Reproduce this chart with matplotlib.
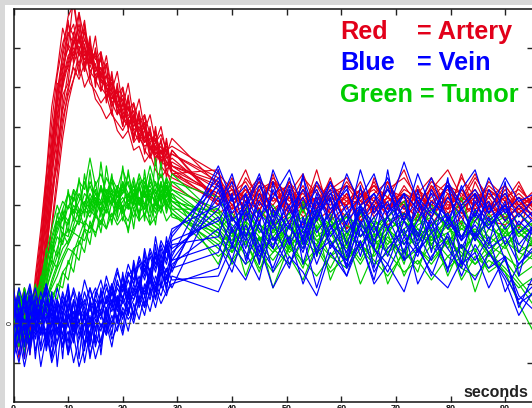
import matplotlib
matplotlib.use("Agg")
import matplotlib.pyplot as plt
from matplotlib.patches import Rectangle

# ---------------- data (signal in tick units, time in seconds) ----------------
time_early = [0, 1, 2, 3, 4, 5, 6, 7, 8, 9, 10, 11, 12, 13, 14, 15, 16, 17, 18, 19,
              20, 21, 22, 23, 24, 25, 26, 27, 28, 29]
time_late = [37.5, 40, 42.5, 45, 47.5, 50.5, 53, 55.5, 58, 61, 63.5, 66, 68.5, 71.5,
             74, 76.5, 79.5, 82, 84.5, 87, 90, 92.5, 95.5]

red_early = [
    [0.3, -0.4, 0.6, 0.1, 0.9, 2.0, 3.4, 4.8, 5.9, 6.8, 7.4, 7.1, 7.6, 7.0, 6.6, 6.8, 6.2, 6.0, 5.7, 5.9, 5.3, 5.5, 5.0, 5.2, 4.7, 4.9, 4.4, 4.6, 4.2, 4.3],
    [0.0, 0.5, -0.6, 0.2, 0.4, 0.9, 1.8, 3.0, 4.3, 5.5, 6.4, 6.9, 7.3, 6.8, 7.1, 6.5, 6.3, 6.6, 5.9, 5.6, 5.8, 5.2, 5.4, 4.9, 5.1, 4.6, 4.8, 4.3, 4.5, 4.0],
    [0.6, -0.2, 0.3, -0.8, 0.5, 1.4, 2.8, 4.4, 5.6, 6.9, 7.8, 8.1, 7.2, 7.5, 6.9, 6.4, 6.7, 6.0, 6.2, 5.6, 5.4, 5.7, 5.1, 4.8, 5.0, 4.5, 4.2, 4.4, 3.9, 4.1],
    [-0.3, 0.2, 0.8, 0.0, 0.3, 1.0, 2.3, 3.6, 5.0, 6.0, 6.6, 7.2, 6.9, 7.4, 6.7, 6.9, 6.1, 6.3, 5.8, 5.5, 5.7, 5.0, 5.3, 4.8, 4.6, 4.9, 4.3, 4.5, 4.1, 3.9],
    [0.2, 0.7, -0.5, 0.4, 0.1, 1.2, 2.1, 3.3, 4.5, 5.4, 6.0, 6.5, 6.2, 6.6, 6.1, 5.9, 5.6, 5.8, 5.3, 5.1, 4.9, 5.2, 4.6, 4.8, 4.4, 4.2, 4.5, 4.0, 3.8, 3.7],
    [-0.7, 0.1, 0.4, -0.3, 0.7, 1.7, 3.1, 4.6, 5.7, 6.5, 7.0, 6.7, 7.3, 6.9, 6.4, 6.6, 6.0, 5.8, 6.1, 5.4, 5.2, 5.5, 4.9, 5.1, 4.7, 4.4, 4.6, 4.2, 4.4, 4.0],
    [0.4, -0.1, 0.2, 0.6, -0.2, 0.5, 1.3, 2.5, 3.8, 5.0, 5.9, 6.6, 7.0, 7.2, 6.8, 6.3, 6.5, 6.0, 5.7, 5.9, 5.4, 5.1, 5.3, 4.9, 4.7, 4.8, 4.4, 4.6, 4.2, 4.3],
    [0.1, -0.6, 0.5, 0.3, 0.6, 1.6, 2.6, 4.0, 5.3, 6.2, 6.8, 7.0, 6.6, 7.1, 6.4, 6.2, 5.9, 6.3, 5.6, 5.8, 5.2, 5.0, 5.2, 4.7, 4.9, 4.5, 4.3, 4.1, 4.3, 3.8],
    [0.3, 0.8, -0.1, 0.2, 1.0, 2.2, 3.7, 5.1, 6.3, 7.1, 7.6, 7.3, 7.9, 7.2, 7.0, 6.7, 6.9, 6.3, 6.1, 5.8, 6.0, 5.4, 5.6, 5.1, 5.3, 4.8, 4.6, 4.8, 4.4, 4.5],
    [-0.4, 0.3, -0.9, 0.1, 0.2, 0.8, 1.9, 3.1, 4.2, 5.2, 5.8, 6.2, 6.6, 6.0, 6.3, 5.7, 5.5, 5.2, 5.4, 4.9, 4.7, 4.9, 4.4, 4.5, 4.1, 4.3, 3.9, 3.7, 3.9, 3.5],
    [0.5, 0.0, 0.3, -0.5, 0.4, 1.5, 2.9, 4.2, 5.5, 6.4, 7.1, 6.8, 7.2, 6.7, 6.9, 6.2, 6.4, 5.9, 5.6, 5.3, 5.6, 5.1, 4.8, 5.0, 4.6, 4.8, 4.3, 4.4, 4.0, 4.2],
    [0.0, 0.4, 0.1, 0.7, 0.2, 1.1, 2.5, 3.9, 5.2, 6.1, 6.7, 7.3, 7.0, 6.6, 7.0, 6.5, 6.2, 6.0, 5.8, 5.5, 5.3, 5.0, 5.2, 4.7, 4.5, 4.6, 4.2, 4.4, 4.1, 3.8],
    [-0.5, 0.6, -0.2, 0.9, 0.2, 1.6, 3.6, 4.2, 6.1, 6.0, 7.7, 6.6, 7.9, 6.5, 7.3, 6.0, 6.9, 5.6, 6.4, 5.3, 6.0, 4.9, 5.6, 4.6, 5.3, 4.2, 5.0, 3.9, 4.7, 3.8],
    [0.9, 0.0, 0.5, -0.2, 0.8, 0.7, 1.6, 3.4, 4.0, 5.8, 6.1, 7.4, 6.3, 7.6, 6.2, 7.0, 5.9, 6.6, 5.3, 6.1, 5.0, 5.7, 4.6, 5.4, 4.3, 5.0, 4.0, 4.7, 3.7, 4.4],
    [0.2, -0.9, 0.4, -0.3, 1.2, 2.4, 3.8, 5.5, 6.4, 7.5, 7.0, 8.3, 7.1, 7.7, 6.6, 7.3, 6.2, 6.8, 5.9, 6.4, 5.5, 6.1, 5.2, 5.7, 4.9, 5.3, 4.6, 5.0, 4.3, 4.7],
    [-0.2, 0.3, 0.9, 0.2, 0.0, 1.3, 2.0, 3.9, 4.6, 6.3, 6.5, 7.1, 7.5, 6.4, 7.2, 6.1, 6.8, 5.7, 6.3, 5.6, 5.0, 5.8, 4.7, 5.3, 4.9, 4.2, 4.9, 4.1, 4.6, 3.9],
    [0.7, 0.1, -0.4, 0.5, 0.4, 0.6, 1.5, 2.4, 3.5, 4.7, 5.6, 6.2, 6.9, 6.4, 7.0, 6.2, 6.5, 6.0, 5.5, 6.0, 5.2, 5.5, 4.9, 4.6, 5.1, 4.4, 4.7, 4.1, 4.0, 4.4],
    [-0.1, 0.5, 0.2, -0.6, 0.6, 1.9, 3.2, 4.3, 5.9, 6.6, 7.3, 7.6, 6.8, 7.0, 6.5, 6.9, 6.3, 6.1, 5.9, 5.5, 5.7, 5.3, 5.1, 5.2, 4.6, 4.7, 4.5, 4.3, 4.4, 4.0],
]
red_late = [
    [3.6, 3.1, 3.4, 2.9, 3.3, 3.0, 3.5, 2.8, 3.2, 3.0, 3.4, 2.7, 3.1, 3.3, 2.9, 3.2, 3.6, 2.8, 3.0, 3.3, 2.9, 3.1, 2.7],
    [3.2, 3.5, 2.8, 3.1, 3.6, 2.9, 3.2, 3.4, 2.6, 3.0, 3.3, 3.1, 2.8, 3.5, 3.0, 2.7, 3.2, 3.4, 2.9, 3.1, 2.6, 3.0, 3.2],
    [3.4, 2.9, 3.7, 3.2, 2.8, 3.3, 3.0, 3.6, 3.1, 2.7, 3.2, 3.5, 3.0, 2.8, 3.3, 3.0, 2.9, 3.7, 3.2, 2.8, 3.4, 2.9, 3.1],
    [3.0, 3.3, 3.1, 3.5, 2.9, 3.2, 2.7, 3.0, 3.4, 3.1, 2.8, 3.3, 3.6, 2.9, 3.1, 3.4, 2.8, 3.0, 3.3, 2.7, 3.0, 3.2, 2.8],
    [3.1, 2.8, 3.0, 2.6, 3.2, 2.9, 2.5, 3.1, 2.8, 3.3, 2.6, 2.9, 3.2, 2.7, 3.0, 2.5, 3.1, 2.8, 2.6, 3.0, 2.7, 2.9, 2.6],
    [3.5, 3.0, 3.3, 3.7, 3.1, 3.4, 2.9, 3.2, 3.0, 3.6, 3.1, 2.9, 3.4, 3.2, 2.8, 3.5, 3.0, 3.2, 3.8, 3.0, 3.3, 2.8, 3.1],
    [3.7, 3.2, 3.0, 3.4, 3.6, 3.1, 3.3, 2.9, 3.5, 3.2, 3.0, 3.6, 2.9, 3.3, 3.1, 3.4, 3.9, 3.2, 3.0, 3.5, 3.1, 2.9, 3.3],
    [3.3, 3.6, 3.1, 2.9, 3.3, 3.5, 3.0, 3.2, 2.8, 3.1, 3.4, 2.9, 3.2, 3.0, 3.4, 2.9, 3.2, 3.0, 3.3, 2.9, 3.5, 3.0, 2.7],
    [3.8, 3.4, 3.2, 3.6, 3.3, 3.0, 3.7, 3.3, 3.1, 3.5, 3.3, 3.0, 3.4, 3.7, 3.2, 3.0, 3.5, 3.3, 3.0, 3.6, 3.2, 3.4, 3.0],
    [2.8, 3.0, 2.6, 2.9, 2.5, 2.8, 3.0, 2.6, 2.9, 2.4, 2.7, 3.0, 2.5, 2.8, 2.6, 2.9, 2.4, 2.7, 3.0, 2.6, 2.5, 2.8, 2.4],
    [3.2, 3.4, 2.9, 3.3, 3.0, 3.6, 3.1, 2.9, 3.3, 3.5, 3.0, 3.2, 2.7, 3.1, 3.4, 3.1, 2.9, 3.4, 3.1, 3.3, 2.8, 3.2, 3.0],
    [3.1, 3.3, 3.6, 3.0, 3.2, 2.8, 3.4, 3.1, 3.6, 2.9, 3.2, 3.4, 3.0, 3.2, 2.8, 3.3, 3.1, 2.9, 3.2, 3.4, 3.0, 2.8, 3.1],
    [3.9, 2.6, 3.5, 2.8, 3.8, 2.5, 3.4, 2.9, 3.7, 2.4, 3.3, 2.8, 3.6, 2.6, 3.5, 2.7, 3.3, 2.5, 3.6, 2.9, 3.2, 2.4, 3.4],
    [3.0, 3.7, 2.7, 3.4, 2.5, 3.6, 2.8, 3.9, 2.7, 3.3, 2.5, 3.7, 2.9, 3.1, 2.6, 3.5, 2.7, 3.8, 2.8, 3.2, 2.6, 3.5, 2.9],
    [3.5, 3.2, 3.9, 3.0, 3.6, 3.3, 3.8, 2.9, 3.4, 3.7, 3.1, 3.5, 3.2, 3.9, 3.0, 3.6, 3.3, 3.1, 3.7, 3.2, 3.5, 3.0, 3.4],
    [3.3, 2.9, 3.1, 3.6, 2.7, 3.2, 3.0, 2.7, 3.3, 3.0, 3.6, 2.8, 3.2, 2.9, 3.3, 3.7, 2.9, 3.1, 2.7, 3.4, 3.1, 3.6, 2.8],
    [3.1, 3.4, 2.9, 3.2, 3.5, 2.8, 3.1, 3.5, 2.9, 3.2, 2.7, 3.1, 3.4, 3.0, 2.7, 3.1, 3.4, 2.9, 3.2, 2.8, 3.0, 3.3, 2.9],
    [3.6, 3.0, 3.4, 3.1, 3.7, 3.2, 2.9, 3.5, 3.2, 3.0, 3.4, 3.1, 2.9, 3.4, 3.2, 3.0, 3.5, 3.1, 3.4, 2.9, 3.2, 3.0, 3.2],
]

green_early = [
    [0.4, -0.3, 0.8, 0.2, 0.6, 0.9, 1.5, 2.1, 2.6, 2.4, 3.0, 2.8, 3.3, 3.0, 3.5, 3.1, 3.4, 3.0, 3.6, 3.2, 3.5, 3.1, 3.3, 3.7, 3.2, 3.4, 3.0, 3.5, 3.3, 3.6],
    [0.0, 0.6, -0.5, 0.3, 0.1, 0.5, 0.8, 1.4, 1.9, 2.3, 2.2, 2.7, 2.5, 3.0, 2.8, 3.2, 2.9, 3.3, 3.0, 3.4, 2.9, 3.2, 3.5, 3.0, 3.3, 3.1, 3.6, 3.2, 3.4, 3.1],
    [0.5, 0.1, 0.3, 0.9, -0.2, 0.4, 1.1, 1.8, 2.5, 2.9, 3.3, 3.1, 3.6, 3.4, 4.2, 3.5, 3.8, 3.3, 3.7, 3.4, 3.9, 3.5, 3.2, 3.8, 3.4, 4.0, 3.5, 3.3, 3.7, 3.4],
    [-0.4, 0.3, 0.0, -0.7, 0.5, 0.2, 0.4, 0.7, 0.9, 1.3, 1.5, 1.9, 2.0, 2.4, 2.3, 2.7, 2.6, 2.9, 2.7, 3.1, 2.8, 3.0, 2.7, 3.2, 2.9, 3.1, 2.8, 3.3, 3.0, 2.9],
    [0.2, 0.7, 0.3, 0.0, 0.6, 0.8, 1.3, 1.7, 2.2, 2.0, 2.6, 2.9, 2.7, 3.1, 2.9, 3.3, 3.0, 3.4, 3.2, 2.9, 3.5, 3.1, 3.4, 3.0, 3.6, 3.2, 3.4, 3.1, 3.5, 3.2],
    [-0.6, 0.1, -0.3, 0.4, -0.1, 0.2, 0.6, 0.9, 1.2, 1.6, 1.9, 1.8, 2.2, 2.1, 2.5, 2.3, 2.6, 2.4, 2.8, 2.5, 2.7, 2.4, 2.9, 2.6, 2.8, 2.5, 2.7, 3.0, 2.6, 2.8],
    [0.3, -0.1, 0.5, 0.2, 0.7, 1.0, 1.6, 2.0, 2.4, 2.8, 2.6, 3.0, 2.8, 3.3, 3.1, 2.9, 3.4, 3.2, 3.0, 3.5, 3.3, 3.6, 3.1, 3.4, 3.2, 3.7, 3.3, 3.5, 3.2, 3.8],
    [0.1, 0.4, -0.2, 0.6, 0.3, 0.3, 0.6, 1.1, 1.5, 1.9, 2.1, 2.4, 2.6, 2.5, 2.9, 2.7, 3.1, 2.8, 3.2, 2.9, 3.1, 3.3, 2.9, 3.2, 3.0, 3.3, 3.1, 2.9, 3.3, 3.0],
    [0.6, 0.2, 0.9, 0.4, 0.1, 0.7, 1.2, 1.9, 2.3, 2.7, 2.5, 3.2, 2.9, 2.8, 3.3, 3.0, 3.5, 3.1, 3.3, 3.0, 3.4, 3.2, 3.7, 3.1, 3.3, 3.5, 3.2, 3.6, 3.1, 3.4],
    [-0.8, -0.2, 0.2, -0.5, 0.3, 0.0, 0.5, 1.0, 1.4, 1.7, 2.0, 2.3, 2.2, 2.6, 2.4, 2.8, 2.5, 2.9, 2.6, 3.0, 2.8, 2.6, 3.1, 2.8, 3.0, 2.7, 3.2, 2.9, 3.1, 2.8],
    [0.3, 0.8, 0.1, 0.5, 0.9, 0.7, 1.4, 2.2, 2.7, 3.1, 2.9, 3.4, 3.2, 3.0, 3.6, 3.3, 3.1, 3.7, 3.4, 3.2, 3.6, 3.3, 3.0, 3.5, 3.7, 3.2, 3.4, 3.8, 3.3, 3.1],
    [0.0, 0.3, 0.6, -0.3, 0.2, 0.4, 0.9, 1.3, 1.7, 2.1, 2.4, 2.3, 2.7, 2.9, 2.7, 3.1, 2.8, 3.0, 3.3, 3.0, 3.2, 2.9, 3.3, 3.1, 2.9, 3.4, 3.0, 3.2, 3.5, 3.1],
    [0.7, -0.4, 0.9, 0.0, 1.0, 0.5, 1.9, 1.5, 2.8, 2.2, 3.4, 2.6, 3.7, 2.7, 3.9, 2.8, 4.1, 3.0, 3.8, 2.7, 4.0, 2.9, 3.6, 2.6, 3.9, 2.8, 4.2, 3.0, 3.7, 2.9],
    [-0.3, 0.5, -0.8, 0.4, -0.2, 0.3, 0.2, 0.8, 0.6, 1.3, 1.1, 1.8, 1.6, 2.4, 2.0, 2.9, 2.3, 3.2, 2.5, 3.4, 2.6, 3.3, 2.4, 3.5, 2.7, 3.2, 2.5, 3.6, 2.8, 3.3],
    [0.2, 0.9, 0.0, 0.7, 0.3, 1.2, 0.9, 2.0, 1.7, 2.9, 2.3, 3.4, 2.6, 3.8, 2.9, 3.6, 2.7, 4.0, 3.1, 3.5, 2.8, 3.9, 3.0, 3.6, 2.6, 3.8, 3.1, 4.1, 2.9, 3.6],
    [-0.1, -0.6, 0.4, -0.4, 0.5, 0.1, 0.7, 0.5, 1.0, 0.9, 1.6, 1.3, 2.1, 1.8, 2.6, 2.2, 2.9, 2.4, 3.1, 2.6, 3.0, 2.3, 3.2, 2.7, 3.4, 2.5, 3.1, 2.8, 3.5, 2.7],
    [0.5, 0.0, 0.6, 0.9, 0.2, 0.6, 1.0, 1.6, 1.4, 2.3, 2.0, 2.5, 2.9, 2.4, 3.2, 2.7, 3.5, 2.9, 3.4, 2.8, 3.6, 3.0, 3.3, 2.8, 3.5, 3.1, 2.9, 3.4, 3.0, 3.3],
    [0.1, 0.5, -0.1, 0.3, 0.7, 1.1, 1.8, 2.4, 3.0, 2.6, 3.3, 2.8, 3.1, 3.6, 3.0, 3.4, 2.8, 3.2, 3.7, 3.1, 3.3, 3.8, 3.2, 3.5, 3.0, 3.6, 3.3, 3.1, 3.6, 3.2],
]
green_late = [
    [2.6, 2.2, 2.8, 2.4, 2.0, 2.5, 2.7, 2.1, 2.4, 2.8, 2.2, 2.5, 2.0, 2.6, 2.3, 2.1, 2.7, 2.4, 2.2, 2.6, 2.0, 2.3, 1.9],
    [2.3, 2.0, 2.5, 1.8, 2.2, 1.9, 2.4, 2.1, 1.7, 2.3, 2.0, 2.5, 1.8, 2.1, 2.4, 1.9, 2.2, 1.7, 2.3, 2.0, 2.4, 1.8, 2.1],
    [2.9, 2.5, 2.2, 2.7, 3.0, 2.4, 2.1, 2.8, 2.5, 2.2, 2.9, 2.4, 2.7, 2.3, 2.6, 3.0, 2.4, 2.2, 2.7, 2.5, 2.8, 2.3, 2.6],
    [1.9, 1.6, 2.1, 1.4, 1.8, 2.2, 1.5, 1.9, 1.3, 1.7, 2.0, 1.6, 1.2, 1.8, 1.5, 2.0, 1.4, 1.7, 1.9, 1.3, 1.6, 1.1, 0.6],
    [2.4, 2.7, 2.1, 2.5, 2.3, 2.8, 2.0, 2.4, 2.6, 2.1, 2.5, 2.2, 2.7, 2.3, 2.0, 2.5, 2.8, 2.2, 2.4, 2.1, 2.6, 2.3, 2.0],
    [1.7, 2.0, 1.5, 1.8, 1.3, 1.9, 1.6, 1.2, 1.7, 1.4, 1.9, 1.5, 1.8, 1.3, 1.6, 1.1, 1.7, 1.4, 1.2, 1.6, 1.3, 0.9, 1.2],
    [2.7, 2.3, 2.6, 2.9, 2.4, 2.2, 2.6, 2.9, 2.3, 2.7, 2.5, 2.1, 2.6, 2.8, 2.4, 2.2, 2.6, 2.9, 2.3, 2.5, 2.7, 2.2, 2.5],
    [2.1, 1.8, 2.3, 2.0, 1.6, 2.2, 1.9, 2.4, 1.7, 2.0, 1.5, 2.1, 1.8, 2.3, 1.9, 1.6, 2.1, 1.8, 1.5, 2.0, 1.7, 1.4, 1.8],
    [2.5, 2.8, 2.3, 2.1, 2.6, 2.4, 2.9, 2.2, 2.5, 2.7, 2.2, 2.6, 2.4, 2.0, 2.5, 2.7, 2.1, 2.4, 2.6, 2.2, 1.9, 2.4, 2.1],
    [2.0, 2.3, 1.7, 2.2, 1.9, 1.5, 2.1, 1.8, 2.3, 1.6, 2.0, 1.7, 2.2, 1.6, 1.9, 2.2, 1.7, 2.0, 1.5, 1.8, 1.3, 0.5, -0.3],
    [2.8, 2.4, 2.0, 2.5, 2.2, 2.7, 2.3, 2.0, 2.6, 2.3, 2.8, 2.1, 2.4, 2.6, 2.2, 2.5, 2.0, 2.6, 2.3, 2.8, 2.2, 2.5, 2.2],
    [2.2, 1.9, 2.4, 2.1, 2.5, 1.8, 2.2, 2.6, 2.0, 2.3, 1.9, 2.4, 2.1, 1.8, 2.3, 2.0, 2.5, 1.9, 2.2, 1.7, 2.1, 1.8, 1.6],
    [2.9, 1.8, 2.6, 1.5, 2.8, 1.9, 3.0, 1.7, 2.7, 1.6, 2.9, 1.8, 2.5, 1.5, 2.8, 2.0, 2.6, 1.4, 2.9, 1.7, 2.5, 1.6, 2.2],
    [1.5, 2.4, 1.2, 2.2, 0.9, 2.0, 1.4, 2.5, 1.1, 2.1, 1.6, 2.3, 1.0, 1.9, 1.3, 2.4, 1.2, 2.0, 0.8, 1.8, 1.4, 1.0, 0.4],
    [3.2, 2.6, 3.0, 2.3, 2.9, 2.1, 3.1, 2.4, 2.8, 2.0, 3.0, 2.5, 2.7, 3.1, 2.2, 2.9, 2.4, 3.2, 2.1, 2.7, 2.3, 2.8, 2.4],
    [2.3, 1.5, 2.1, 1.3, 2.4, 1.7, 1.1, 2.0, 1.4, 2.2, 1.0, 1.8, 2.3, 1.2, 1.9, 1.5, 2.1, 1.1, 1.7, 1.4, 2.0, 1.2, 1.5],
    [2.5, 2.1, 2.9, 2.3, 2.6, 1.9, 2.4, 2.8, 2.0, 2.5, 2.2, 2.7, 1.9, 2.4, 2.7, 2.1, 2.3, 2.6, 1.8, 2.4, 2.2, 2.5, 2.0],
    [2.4, 2.0, 2.6, 2.2, 1.8, 2.5, 2.1, 2.7, 2.3, 1.9, 2.6, 2.0, 2.3, 2.8, 2.1, 2.4, 1.9, 2.5, 2.2, 1.8, 2.3, 2.0, 1.7],
]

blue_early = [
    [0.5, -0.3, 0.8, 0.1, -0.4, 0.6, 0.0, 0.7, -0.2, 0.4, 0.9, 0.1, 0.5, -0.3, 0.6, 0.2, 0.8, 0.3, 1.0, 0.5, 1.2, 0.7, 1.4, 0.9, 1.5, 1.1, 1.8, 1.3, 2.0, 1.6],
    [-0.6, 0.2, -0.9, 0.3, -0.2, 0.5, -0.7, 0.1, -0.5, 0.3, -0.8, 0.0, -0.4, 0.2, -0.9, -0.1, 0.3, -0.3, 0.5, 0.0, 0.6, 0.2, 0.9, 0.4, 1.0, 0.6, 1.2, 0.9, 1.4, 1.1],
    [0.2, 0.9, 0.4, -0.1, 0.7, 0.3, 1.0, 0.5, 0.1, 0.8, 0.3, 0.9, 0.4, 1.1, 0.6, 0.9, 0.5, 1.2, 0.7, 1.3, 0.9, 1.5, 1.1, 1.7, 1.3, 1.9, 1.5, 2.1, 1.8, 2.2],
    [-0.2, -0.8, 0.1, -0.5, 0.4, -0.3, 0.2, -0.9, -0.1, -0.6, 0.3, -0.4, 0.1, -1.0, -0.2, 0.2, -0.5, 0.3, -0.1, 0.5, 0.1, 0.7, 0.2, 0.9, 0.5, 1.1, 0.6, 1.3, 0.9, 1.5],
    [0.8, 0.2, 0.5, 1.0, 0.3, -0.2, 0.6, 0.1, 0.9, 0.4, -0.1, 0.6, 0.2, 0.8, 0.3, 0.7, 1.1, 0.5, 0.9, 1.4, 0.8, 1.3, 1.0, 1.6, 1.2, 1.8, 1.4, 2.0, 1.6, 2.3],
    [-0.9, -0.3, -1.1, -0.4, 0.1, -0.7, -0.2, -1.0, -0.5, 0.0, -0.8, -0.3, -1.1, -0.6, -0.2, -0.9, -0.4, 0.0, -0.6, 0.2, -0.3, 0.4, 0.0, 0.6, 0.2, 0.9, 0.4, 1.0, 0.7, 1.2],
    [0.3, -0.4, 0.6, 0.0, 0.4, -0.6, 0.5, 0.2, -0.3, 0.6, 0.0, -0.5, 0.4, 0.1, 0.5, -0.2, 0.6, 0.1, 0.8, 0.3, 1.0, 0.5, 0.8, 1.2, 0.7, 1.4, 1.0, 1.6, 1.3, 1.8],
    [0.1, 0.6, -0.2, 0.4, 0.9, 0.2, -0.4, 0.5, 0.0, 0.7, 0.3, -0.2, 0.6, 0.2, 0.9, 0.4, 0.1, 0.7, 0.4, 0.9, 0.6, 1.1, 0.7, 1.0, 1.4, 1.0, 1.7, 1.2, 1.9, 1.4],
    [-0.5, 0.1, -0.2, 0.5, -0.7, -0.1, 0.4, -0.4, 0.2, -0.6, 0.1, 0.5, -0.3, 0.3, -0.5, 0.1, -0.2, 0.4, 0.0, 0.6, 0.2, 0.5, 1.0, 0.6, 0.9, 1.3, 0.8, 1.5, 1.1, 1.7],
    [0.4, 0.0, 0.7, -0.3, 0.2, 0.8, 0.3, -0.1, 0.6, 0.2, 0.7, -0.2, 0.3, 0.6, 0.0, 0.4, 0.2, 0.6, 0.3, 0.7, 0.5, 0.8, 0.6, 1.0, 0.8, 1.2, 0.9, 1.5, 1.2, 1.6],
    [-0.3, 0.4, 0.0, -0.6, 0.3, 0.0, -0.5, 0.4, -0.2, 0.1, -0.7, 0.3, -0.1, -0.5, 0.2, -0.6, 0.0, -0.3, 0.2, -0.2, 0.4, 0.1, 0.3, 0.7, 0.4, 0.8, 1.0, 0.7, 1.2, 0.9],
    [0.6, -0.1, 0.3, 0.7, 0.0, 0.5, 0.8, 0.2, 0.6, -0.1, 0.4, 0.8, 0.0, 0.5, 0.9, 0.3, 0.7, 1.0, 0.5, 1.1, 0.6, 1.3, 1.0, 1.5, 1.1, 1.7, 1.3, 1.9, 1.5, 2.1],
    [0.9, -0.5, 0.7, -0.8, 0.6, -0.3, 0.9, -0.6, 0.5, -0.9, 0.8, -0.4, 0.7, -0.7, 0.6, -0.5, 0.9, -0.2, 1.0, 0.0, 1.3, 0.2, 1.5, 0.5, 1.8, 0.7, 2.0, 0.9, 2.2, 1.3],
    [-1.0, 0.3, -0.6, 0.7, -0.9, 0.4, -0.4, 0.8, -1.1, 0.2, -0.5, 0.6, -0.9, 0.3, -0.6, 0.5, -0.8, 0.4, -0.3, 0.7, -0.2, 0.9, 0.1, 1.1, 0.4, 1.4, 0.6, 1.8, 0.8, 2.0],
    [0.3, 0.7, -0.2, 0.9, 0.1, 0.5, 1.0, -0.3, 0.6, 0.2, 1.0, -0.1, 0.7, 0.3, -0.4, 0.8, 0.2, 0.6, 1.0, 0.4, 1.2, 0.6, 1.6, 0.9, 1.9, 1.2, 2.2, 1.4, 1.9, 2.4],
    [-0.4, -1.0, -0.2, -0.7, 0.0, -1.1, -0.3, -0.8, 0.1, -0.6, -0.2, -1.0, -0.4, 0.0, -0.8, -0.3, -0.6, 0.1, -0.4, -0.1, 0.3, -0.2, 0.5, 0.1, 0.7, 0.3, 0.9, 0.5, 0.8, 1.0],
    [0.2, 0.6, 0.0, -0.5, 0.5, 0.1, -0.2, 0.7, 0.3, -0.3, 0.5, 0.0, 0.8, 0.4, -0.1, 0.6, 0.3, 0.9, 0.5, 1.0, 0.8, 1.2, 1.4, 0.9, 1.6, 1.3, 1.8, 1.5, 2.1, 1.9],
    [-0.2, 0.3, -0.5, 0.1, -0.3, 0.4, -0.6, 0.0, 0.4, -0.4, 0.2, -0.2, 0.5, -0.6, 0.1, 0.3, -0.1, 0.2, 0.6, 0.1, 0.7, 0.3, 0.6, 1.0, 0.7, 1.1, 0.8, 1.3, 1.0, 1.4],
]
blue_late = [
    [3.2, 2.3, 2.9, 1.8, 3.4, 2.5, 1.9, 3.1, 2.2, 2.8, 1.7, 3.0, 2.4, 3.3, 2.0, 2.7, 3.5, 2.1, 2.9, 2.4, 3.1, 1.8, 2.6],
    [1.2, 2.0, 1.5, 2.6, 1.3, 2.2, 1.0, 1.9, 2.5, 1.4, 2.1, 1.1, 2.4, 1.6, 2.0, 1.2, 2.3, 1.5, 1.8, 0.9, 1.7, 0.4, 1.3],
    [3.7, 2.8, 3.3, 2.5, 3.9, 2.9, 3.4, 2.6, 3.6, 2.8, 3.2, 3.8, 2.7, 3.3, 2.9, 3.7, 2.6, 3.4, 3.9, 2.8, 3.3, 2.7, 3.2],
    [2.4, 1.6, 2.8, 2.0, 1.4, 2.5, 1.8, 2.9, 2.1, 1.5, 2.6, 1.9, 1.3, 2.2, 1.7, 2.7, 1.9, 1.4, 2.3, 1.8, 1.1, 0.2, 0.9],
    [3.5, 2.6, 3.0, 3.8, 2.7, 3.3, 2.4, 3.6, 2.9, 3.4, 2.5, 3.1, 3.7, 2.6, 3.2, 2.8, 3.5, 2.9, 3.3, 2.6, 3.0, 2.5, 2.9],
    [0.8, 1.6, 1.1, 2.0, 0.9, 1.7, 1.3, 0.7, 1.8, 1.2, 2.1, 1.0, 1.5, 0.8, 1.9, 1.3, 0.9, 1.6, 1.1, 1.8, 1.2, 0.6, 1.0],
    [2.9, 3.6, 2.2, 3.1, 2.6, 3.7, 2.3, 2.8, 3.4, 2.0, 3.0, 2.5, 3.5, 2.2, 2.9, 2.4, 3.2, 2.7, 2.1, 3.0, 2.4, 2.8, 2.3],
    [1.8, 2.7, 2.2, 1.6, 2.9, 2.0, 2.6, 1.5, 2.4, 3.0, 1.9, 2.5, 1.7, 2.8, 2.3, 1.6, 2.7, 2.1, 2.5, 1.9, 2.2, 1.5, 2.0],
    [4.0, 3.1, 3.5, 2.7, 3.2, 3.9, 2.9, 3.4, 2.6, 3.8, 3.0, 3.3, 2.8, 4.1, 3.1, 2.7, 3.6, 3.0, 3.4, 2.8, 3.7, 3.1, 3.3],
    [2.0, 1.3, 2.5, 1.7, 2.2, 1.4, 2.7, 1.8, 2.1, 1.2, 2.4, 1.9, 1.5, 2.6, 1.8, 2.3, 1.4, 2.0, 1.6, 2.2, 0.8, 1.5, 1.9],
    [3.4, 2.4, 2.9, 3.7, 2.1, 2.6, 3.2, 2.3, 2.8, 3.5, 2.2, 2.7, 3.1, 2.0, 2.6, 3.3, 2.4, 2.9, 2.2, 3.4, 2.6, 3.0, 2.5],
    [2.6, 3.2, 1.9, 2.8, 2.4, 3.0, 2.1, 3.3, 2.5, 1.8, 2.9, 2.3, 3.0, 2.6, 2.1, 3.1, 2.7, 2.2, 2.8, 2.4, 3.0, 2.0, 2.5],
    [3.9, 1.9, 3.3, 1.5, 3.6, 2.0, 3.8, 1.7, 3.2, 1.4, 3.5, 1.9, 3.9, 1.6, 3.4, 1.8, 3.7, 1.5, 3.3, 2.0, 3.6, 1.2, 2.7],
    [2.2, 3.3, 1.6, 2.9, 1.9, 3.4, 1.5, 2.7, 3.2, 1.7, 3.0, 1.4, 2.8, 3.3, 1.8, 2.6, 1.3, 3.0, 2.1, 2.7, 1.6, 0.7, 0.3],
    [3.0, 3.8, 2.6, 3.5, 2.9, 2.4, 3.7, 2.7, 3.3, 2.5, 3.9, 2.8, 3.4, 2.6, 3.8, 2.9, 2.5, 3.5, 2.7, 3.7, 2.8, 3.2, 2.6],
    [1.4, 2.4, 1.8, 1.1, 2.6, 1.5, 2.2, 0.9, 2.0, 1.6, 2.5, 1.3, 1.9, 2.4, 1.0, 1.7, 2.2, 1.2, 2.0, 1.4, 1.7, 0.5, 0.8],
    [2.7, 2.0, 3.1, 2.4, 1.9, 2.9, 2.2, 3.2, 1.9, 2.6, 3.0, 2.1, 2.7, 1.8, 3.1, 2.3, 2.8, 1.9, 2.6, 3.1, 2.0, 2.6, 2.2],
    [3.6, 2.7, 2.1, 3.3, 2.5, 3.5, 2.0, 2.9, 3.6, 2.3, 2.8, 3.3, 2.4, 3.0, 2.2, 3.4, 2.6, 2.1, 3.1, 2.5, 2.9, 2.3, 2.7],
]

x_ticks = [0, 10, 20, 30, 40, 50, 60, 70, 80, 90]
y_ticks = [-1, 0, 1, 2, 3, 4, 5, 6, 7]
y_tick_labels = ["", "0", "", "", "", "", "", "", ""]
legend_rows = [("Red", "= Artery"), ("Blue", "= Vein")]
legend_last = "Green = Tumor"
x_label = "seconds"

RED = "#e2001a"
GREEN = "#00cc00"
BLUE = "#0000ff"

# ---------------- figure ----------------
W, H = 532, 408
fig = plt.figure(figsize=(W / 100, H / 100), dpi=100, facecolor="#d8d8d8")
fig.add_artist(Rectangle((4.5 / W, 0), 1, 1 - 4.5 / H, transform=fig.transFigure,
                         facecolor="white", edgecolor="none", zorder=-10))

left, right, top, bottom = 13.5, 533.0, 8.5, 402.0
ax = fig.add_axes([left / W, (H - bottom) / H, (right - left) / W, (bottom - top) / H])
ax.set_facecolor("white")

t_all = time_early + time_late
LW = 0.85
for e, l in zip(red_early, red_late):
    ax.plot(t_all, e + l, color=RED, lw=LW, zorder=2)
for e, l in zip(green_early, green_late):
    ax.plot(t_all, e + l, color=GREEN, lw=LW, zorder=3)
for e, l in zip(blue_early, blue_late):
    ax.plot(t_all, e + l, color=BLUE, lw=LW, zorder=4)

ax.axhline(0, color="#444444", lw=1.0, ls=(0, (2.9, 2.9)), zorder=6)

ax.set_xlim(0, 95.1)
ax.set_ylim(-2, 8)
ax.set_xticks(x_ticks)
ax.set_xticklabels([str(v) for v in x_ticks], fontfamily="Liberation Sans",
                   fontweight="bold", fontsize=6.5)
ax.set_yticks(y_ticks)
ax.set_yticklabels(y_tick_labels, rotation=90, fontfamily="Liberation Sans",
                   fontsize=5, va="center")
ax.tick_params(direction="in", length=4.5, width=1.0, color="#222222",
               top=True, right=True, labelcolor="#111111")
ax.tick_params(axis="x", pad=1.5)
ax.tick_params(axis="y", pad=0.0)
for s in ax.spines.values():
    s.set_linewidth(1.1)
    s.set_color("#111111")

fs = 18.2
y_base = [39, 70]
for (name, rhs), yb, col in zip(legend_rows, y_base, [RED, BLUE]):
    fig.text(340 / W, 1 - yb / H, name, color=col, fontsize=fs, fontweight="bold",
             fontfamily="Liberation Sans", va="baseline", ha="left")
    fig.text(417 / W, 1 - yb / H, rhs, color=col, fontsize=fs, fontweight="bold",
             fontfamily="Liberation Sans", va="baseline", ha="left")
fig.text(340 / W, 1 - 102 / H, legend_last, color=GREEN, fontsize=fs, fontweight="bold",
         fontfamily="Liberation Sans", va="baseline", ha="left")

fig.text(528 / W, 1 - 397 / H, x_label, color="#222222", fontsize=11.5, fontweight="bold",
         fontfamily="Liberation Sans", va="baseline", ha="right")

fig.savefig("out.png", dpi=100, facecolor=fig.get_facecolor())
